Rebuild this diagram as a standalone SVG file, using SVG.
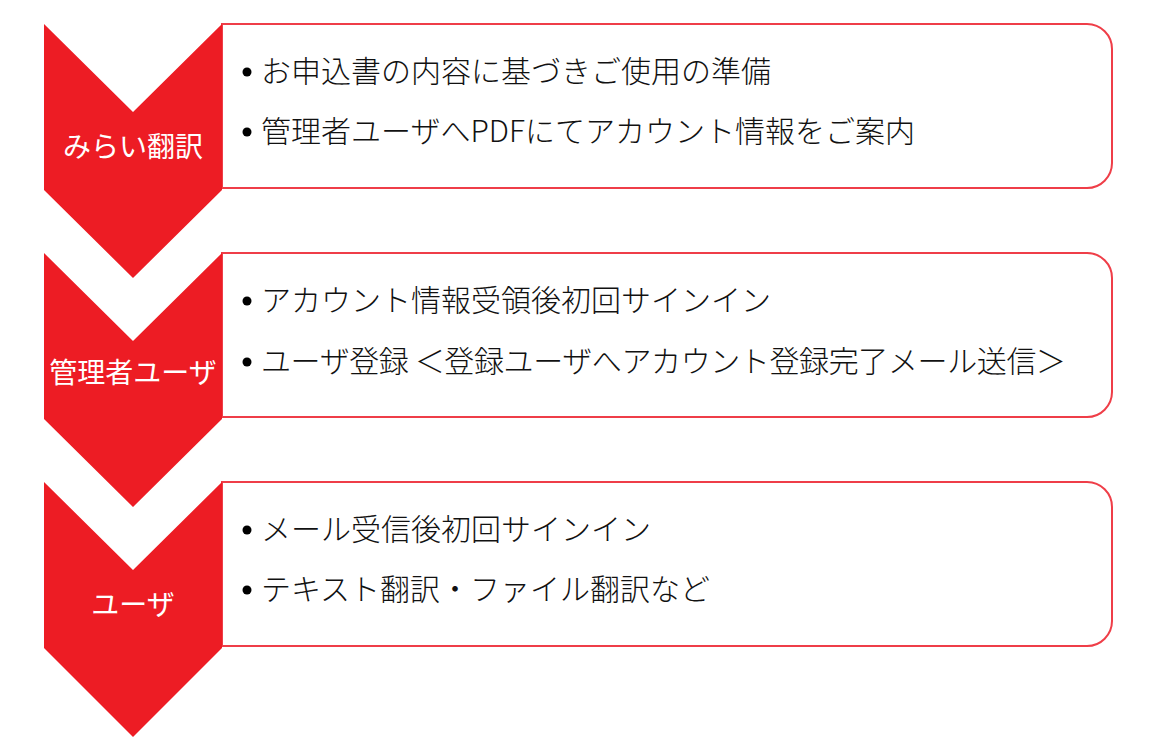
<svg xmlns="http://www.w3.org/2000/svg" width="1161" height="753" viewBox="0 0 1161 753">
<style>
.box{fill:#ffffff;stroke:#EF3E48;stroke-width:2}
.chev{fill:#ED1C24}
.lbl{font-family:"Noto Sans CJK JP","Noto Sans",sans-serif;font-size:28px;fill:#ffffff;text-anchor:middle}
.item{font-family:"Noto Sans CJK JP","Noto Sans",sans-serif;font-size:30px;font-weight:300;fill:#111111}
.dot{fill:#000000}
</style>
<rect width="1161" height="753" fill="#ffffff"/>
<g id="step1">
<path class="box" d="M222,24 H1087 A25,25 0 0 1 1112,49 V163 A25,25 0 0 1 1087,188 H222 Z"/>
<polygon class="chev" points="44,24 133,112 222,24 222,190 133,278 44,190"/>
<text class="lbl" x="133" y="157">みらい翻訳</text>
<circle class="dot" cx="247" cy="72" r="4.5"/>
<text class="item" x="261" y="82">お申込書の内容に基づきご使用の準備</text>
<circle class="dot" cx="247" cy="132" r="4.5"/>
<text class="item" x="261" y="142">管理者ユーザへPDFにてアカウント情報をご案内</text>
</g>
<g id="step2">
<path class="box" d="M222,253 H1087 A25,25 0 0 1 1112,278 V392 A25,25 0 0 1 1087,417 H222 Z"/>
<polygon class="chev" points="44,253 133,341 222,253 222,419 133,507 44,419"/>
<text class="lbl" x="133" y="383">管理者ユーザ</text>
<circle class="dot" cx="247" cy="301" r="4.5"/>
<text class="item" x="261" y="311">アカウント情報受領後初回サインイン</text>
<circle class="dot" cx="247" cy="362" r="4.5"/>
<text class="item" x="261" y="372" textLength="805" lengthAdjust="spacing">ユーザ登録 ＜登録ユーザへアカウント登録完了メール送信＞</text>
</g>
<g id="step3">
<path class="box" d="M222,482 H1087 A25,25 0 0 1 1112,507 V621 A25,25 0 0 1 1087,646 H222 Z"/>
<polygon class="chev" points="44,482 133,570 222,482 222,648 133,737 44,648"/>
<text class="lbl" x="133" y="615">ユーザ</text>
<circle class="dot" cx="247" cy="530" r="4.5"/>
<text class="item" x="261" y="540">メール受信後初回サインイン</text>
<circle class="dot" cx="247" cy="590" r="4.5"/>
<text class="item" x="261" y="600">テキスト翻訳・ファイル翻訳など</text>
</g>
<g id="connectors"></g>
</svg>
